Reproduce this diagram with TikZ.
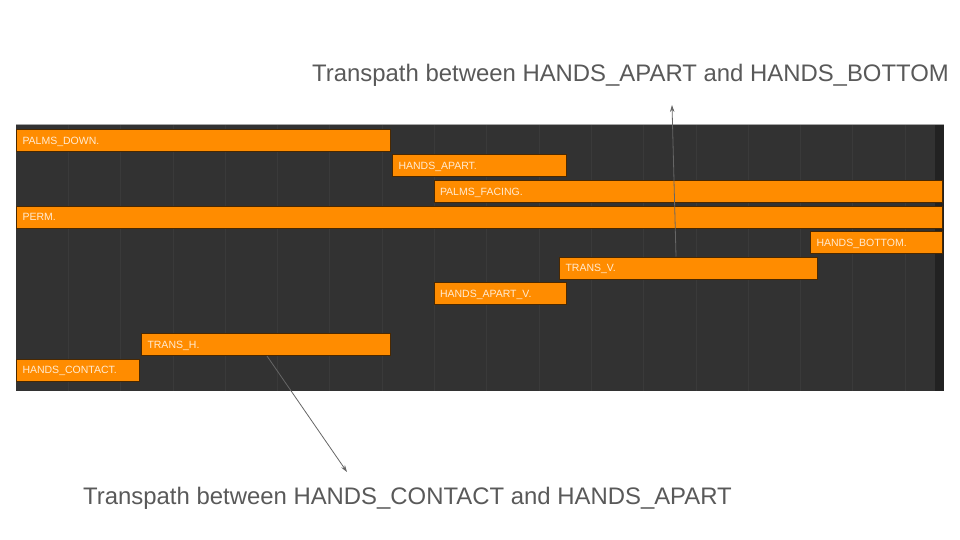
\documentclass[tikz,border=0pt]{standalone}
\usepackage{fontspec}
\setmainfont{Liberation Sans}
\usetikzlibrary{positioning,arrows.meta,calc}

\definecolor{panelbg}{HTML}{323232}
\definecolor{gridln}{HTML}{3A3A3A}
\definecolor{stripbg}{HTML}{222222}
\definecolor{barfill}{HTML}{FF8C00}
\definecolor{bardark}{HTML}{4A2800}
\definecolor{bartxt}{HTML}{FFEBD2}
\definecolor{notetxt}{HTML}{595959}
\definecolor{arrowln}{HTML}{666666}

\begin{document}
\begin{tikzpicture}[
  x=1pt, y=-1pt,
  >={Stealth[length=7pt,width=4.5pt]},
  bar/.style={draw=bardark, line width=1pt, fill=barfill, anchor=north west,
    minimum height=22pt, inner xsep=6pt, inner ysep=0pt, align=left,
    text height=7.5pt, text depth=0pt,
    text=bartxt, font=\fontsize{10.5}{12}\selectfont},
  note/.style={anchor=base west, inner sep=0pt, text=notetxt,
    font=\fontsize{23.9}{28}\selectfont},
  pointer/.style={->, draw=arrowln, line width=0.8pt}
]
\useasboundingbox (0,0) rectangle (960,540);

% --- Timeline panel ---
\fill[panelbg] (16,124) rectangle (944,390.5);
\foreach \k in {1,...,17}
  \draw[gridln, line width=0.8pt] (16+52.3*\k,124.5) -- (16+52.3*\k,390.5);
\fill[stripbg] (934.5,124) rectangle (944,390.5);
\draw[gray!70, line width=1pt] (16,124.5) -- (944,124.5);

% --- Clips ---
\node[bar, text width=362pt] (pdown)    at (16,129)    {PALMS\_DOWN.};
\node[bar, text width=162pt] (hapart)   at (392,154.5) {HANDS\_APART.};
\node[bar, text width=496pt] (pfacing)  at (433.5,180) {PALMS\_FACING.};
\node[bar, text width=914pt] (perm)     at (16,205.5)  {PERM.};
\node[bar, text width=120pt] (hbottom)  at (810,231)   {HANDS\_BOTTOM.};
\node[bar, text width=246pt] (transv)   at (559,256.5) {TRANS\_V.};
\node[bar, text width=120pt] (hapartv)  at (433.5,282) {HANDS\_APART\_V.};
\node[bar, text width=237pt] (transh)   at (141,333)   {TRANS\_H.};
\node[bar, text width=111pt] (hcontact) at (16,358.5)  {HANDS\_CONTACT.};

% --- Notes ---
\node[note] (topnote) at (312,81.7)  {Transpath between HANDS\_APART and HANDS\_BOTTOM};
\node[note] (botnote) at (83,504.7)  {Transpath between HANDS\_CONTACT and HANDS\_APART};

% --- Pointers ---
\coordinate (toptip) at (672,105);
\coordinate (bottip) at (347,472);
\draw[pointer] ([xshift=117pt]transv.north west) -- (toptip);
\draw[pointer] ([xshift=126pt]transh.south west) -- (bottip);

\end{tikzpicture}
\end{document}
